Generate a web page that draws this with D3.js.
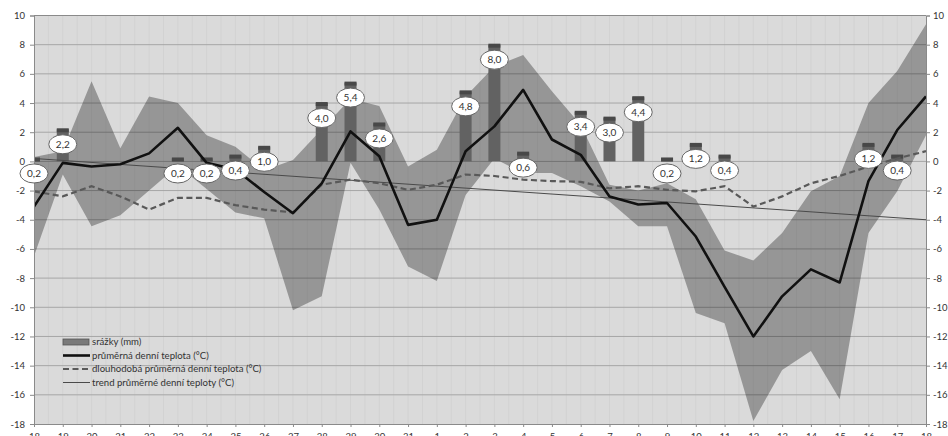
<!DOCTYPE html>
<html>
<head>
<meta charset="utf-8">
<script src="https://cdnjs.cloudflare.com/ajax/libs/d3/7.8.5/d3.min.js"></script>
<style>
  body { margin: 0; background: #fff; }
  svg text { font-family: Lato, "Open Sans", sans-serif; fill: #333; }
</style>
</head>
<body>
<svg id="chart" width="948" height="436"></svg>
<script>
// Days (18 Dec - 18 Jan)
var days = ['18', '19', '20', '21', '22', '23', '24', '25', '26', '27', '28', '29', '30', '31',
  '1', '2', '3', '4', '5', '6', '7', '8', '9', '10', '11', '12', '13', '14', '15', '16', '17', '18'];

// srážky (mm)
var precip = [0.2, 2.2, 0, 0, 0, 0.2, 0.2, 0.4, 1.0, 0, 4.0, 5.4, 2.6, 0, 0, 4.8,
  8.0, 0.6, 0, 3.4, 3.0, 4.4, 0.2, 1.2, 0.4, 0, 0, 0, 0, 1.2, 0.4, 0];

// denní maximum / minimum (band)
var tempMax = [0.3, 0.7, 5.5, 0.9, 4.45, 4.0, 1.8, 1.0, -0.6, 0.1, 2.2, 4.3, 3.8, -0.35, 0.8, 4.45,
  6.5, 7.3, 4.8, 2.5, -1.6, -2.0, -1.5, -2.6, -6.1, -6.8, -4.9, -2.05, -1.0, 4.0, 6.2, 9.4];
var tempMin = [-6.5, -0.9, -4.45, -3.7, -2.0, -0.3, -1.9, -3.5, -3.9, -10.2, -9.25, -0.1, -3.3, -7.2, -8.2, -2.3,
  0.2, -0.8, -0.8, -1.7, -2.75, -4.45, -4.45, -10.4, -11.1, -17.8, -14.3, -13.0, -16.3, -4.9, -2.05, 1.8];

// průměrná denní teplota
var tempMean = [-3.1, -0.1, -0.35, -0.2, 0.55, 2.3, -0.1, -0.55, -2.1, -3.55, -1.5, 2.05, 0.35, -4.35, -4.0, 0.7,
  2.4, 4.9, 1.5, 0.45, -2.4, -2.95, -2.85, -5.15, -8.6, -12.0, -9.25, -7.4, -8.3, -1.35, 2.15, 4.45];

// dlouhodobá průměrná denní teplota
var tempLong = [-2.05, -2.4, -1.7, -2.4, -3.3, -2.5, -2.5, -3.0, -3.3, -3.5, -1.6, -1.25, -1.5, -1.95, -1.6, -0.9,
  -1.0, -1.25, -1.35, -1.4, -1.85, -1.7, -1.95, -2.05, -1.7, -3.1, -2.4, -1.5, -1.0, -0.35, 0.2, 0.7];

// trend (first and last day)
var trendEnds = [0.2, -4.0];

var yTicks = [10, 8, 6, 4, 2, 0, -2, -4, -6, -8, -10, -12, -14, -16, -18];

var legendLabels = ['srážky (mm)', 'průměrná denní teplota (°C)',
  'dlouhodobá průměrná denní teplota (°C)', 'trend průměrné denní teploty (°C)'];

var plotLeft = 34, plotRight = 926, plotTop = 15.5, plotBottom = 424;

var svg = d3.select('#chart');

var x = d3.scalePoint()
  .domain(d3.range(days.length))
  .range([plotLeft, plotRight]);

var y = d3.scaleLinear()
  .domain([-18, 10])
  .range([plotBottom, plotTop]);

var fmt = function(v) { return d3.format('.1f')(v).replace('.', ','); };

svg.append('clipPath').attr('id', 'plotClip')
  .append('rect')
  .attr('x', plotLeft).attr('y', plotTop)
  .attr('width', plotRight - plotLeft).attr('height', plotBottom - plotTop);

// plot background
svg.append('rect')
  .attr('x', plotLeft).attr('y', plotTop)
  .attr('width', plotRight - plotLeft).attr('height', plotBottom - plotTop)
  .attr('fill', '#dadada');

// faint vertical lines
var halfSteps = d3.range(0.5, days.length - 1, 0.5);
svg.append('g').selectAll('line')
  .data(halfSteps)
  .enter().append('line')
  .attr('x1', function(d) { return plotLeft + d * x.step(); })
  .attr('x2', function(d) { return plotLeft + d * x.step(); })
  .attr('y1', plotTop).attr('y2', plotBottom)
  .attr('stroke', '#d2d2d2')
  .attr('stroke-width', 1);

// horizontal gridlines
svg.append('g').selectAll('line')
  .data(yTicks.slice(1, -1))
  .enter().append('line')
  .attr('x1', plotLeft).attr('x2', plotRight)
  .attr('y1', function(d) { return y(d); })
  .attr('y2', function(d) { return y(d); })
  .attr('stroke', '#a6a6a6')
  .attr('stroke-width', 1);

var plot = svg.append('g').attr('clip-path', 'url(#plotClip)');

// min-max band
var band = d3.area()
  .x(function(d, i) { return x(i); })
  .y0(function(d, i) { return y(tempMin[i]); })
  .y1(function(d, i) { return y(tempMax[i]); });

plot.append('path')
  .datum(tempMax)
  .attr('d', band)
  .attr('fill', '#000')
  .attr('fill-opacity', 0.31);

// precipitation bars
var barW = 12;
var barData = precip.map(function(v, i) { return { i: i, v: v }; })
  .filter(function(d) { return d.v > 0; });

var barG = plot.append('g');
barG.selectAll('rect.body')
  .data(barData)
  .enter().append('rect')
  .attr('class', 'body')
  .attr('x', function(d) { return x(d.i) - barW / 2; })
  .attr('y', function(d) { return y(d.v); })
  .attr('width', barW)
  .attr('height', function(d) { return y(0) - y(d.v); })
  .attr('fill', '#626262');

barG.selectAll('rect.cap')
  .data(barData)
  .enter().append('rect')
  .attr('class', 'cap')
  .attr('x', function(d) { return x(d.i) - barW / 2; })
  .attr('y', function(d) { return y(d.v) - 1; })
  .attr('width', barW)
  .attr('height', 4)
  .attr('fill', '#484848');

// trend line
plot.append('line')
  .attr('x1', x(0)).attr('y1', y(trendEnds[0]))
  .attr('x2', x(days.length - 1)).attr('y2', y(trendEnds[1]))
  .attr('stroke', '#4a4a4a')
  .attr('stroke-width', 1);

var line = d3.line()
  .x(function(d, i) { return x(i); })
  .y(function(d) { return y(d); });

// long-term average
plot.append('path')
  .datum(tempLong)
  .attr('d', line)
  .attr('fill', 'none')
  .attr('stroke', '#595959')
  .attr('stroke-width', 2.2)
  .attr('stroke-dasharray', '6,3.5');

// mean daily temperature
plot.append('path')
  .datum(tempMean)
  .attr('d', line)
  .attr('fill', 'none')
  .attr('stroke', '#111')
  .attr('stroke-width', 2.6)
  .attr('stroke-linejoin', 'round');

// axes
var yAxisL = d3.axisLeft(y).tickValues(yTicks).tickSize(4).tickPadding(5)
  .tickFormat(function(d) { return String(d); });
var yAxisR = d3.axisRight(y).tickValues(yTicks).tickSize(4).tickPadding(3)
  .tickFormat(function(d) { return String(d); });
var xAxis = d3.axisBottom(x).tickSize(3).tickPadding(6)
  .tickFormat(function(i) { return days[i]; });

function styleAxis(g) {
  g.selectAll('path.domain').attr('stroke', '#8a8a8a');
  g.selectAll('.tick line').attr('stroke', '#8a8a8a');
  g.selectAll('.tick text').style('font-size', '9.5px').attr('fill', '#333');
}

svg.append('g').attr('transform', 'translate(' + plotLeft + ',0)').call(yAxisL).call(styleAxis);
svg.append('g').attr('transform', 'translate(' + plotRight + ',0)').call(yAxisR).call(styleAxis);
svg.append('g').attr('transform', 'translate(0,' + plotBottom + ')').call(xAxis).call(styleAxis);

// top border
svg.append('line')
  .attr('x1', plotLeft).attr('x2', plotRight)
  .attr('y1', plotTop).attr('y2', plotTop)
  .attr('stroke', '#8a8a8a');

// data labels
var labels = svg.append('g').selectAll('g')
  .data(barData)
  .enter().append('g')
  .attr('transform', function(d) { return 'translate(' + x(d.i) + ',' + (y(d.v) + 15) + ')'; });

labels.append('ellipse')
  .attr('rx', 14).attr('ry', 9.5)
  .attr('fill', '#fff')
  .attr('stroke', '#666')
  .attr('stroke-width', 1);

labels.append('text')
  .attr('text-anchor', 'middle')
  .attr('dy', '0.36em')
  .style('font-size', '10px')
  .text(function(d) { return fmt(d.v); });

// legend
var legend = svg.append('g').attr('transform', 'translate(63,342)');
var rowH = 13.5;

legend.append('rect')
  .attr('x', 0).attr('y', -3).attr('width', 26).attr('height', 6)
  .attr('fill', '#7a7a7a').attr('stroke', '#555').attr('stroke-width', 0.8);
legend.append('line')
  .attr('x1', 0).attr('x2', 27).attr('y1', rowH).attr('y2', rowH)
  .attr('stroke', '#111').attr('stroke-width', 2.6);
legend.append('line')
  .attr('x1', 0).attr('x2', 27).attr('y1', rowH * 2).attr('y2', rowH * 2)
  .attr('stroke', '#595959').attr('stroke-width', 2.2).attr('stroke-dasharray', '6,3.5');
legend.append('line')
  .attr('x1', 0).attr('x2', 27).attr('y1', rowH * 3).attr('y2', rowH * 3)
  .attr('stroke', '#4a4a4a').attr('stroke-width', 1);

legend.selectAll('text')
  .data(legendLabels)
  .enter().append('text')
  .attr('x', 29)
  .attr('y', function(d, i) { return i * rowH; })
  .attr('dy', '0.35em')
  .style('font-size', '9.6px')
  .attr('fill', '#444')
  .text(function(d) { return d; });
</script>
</body>
</html>
